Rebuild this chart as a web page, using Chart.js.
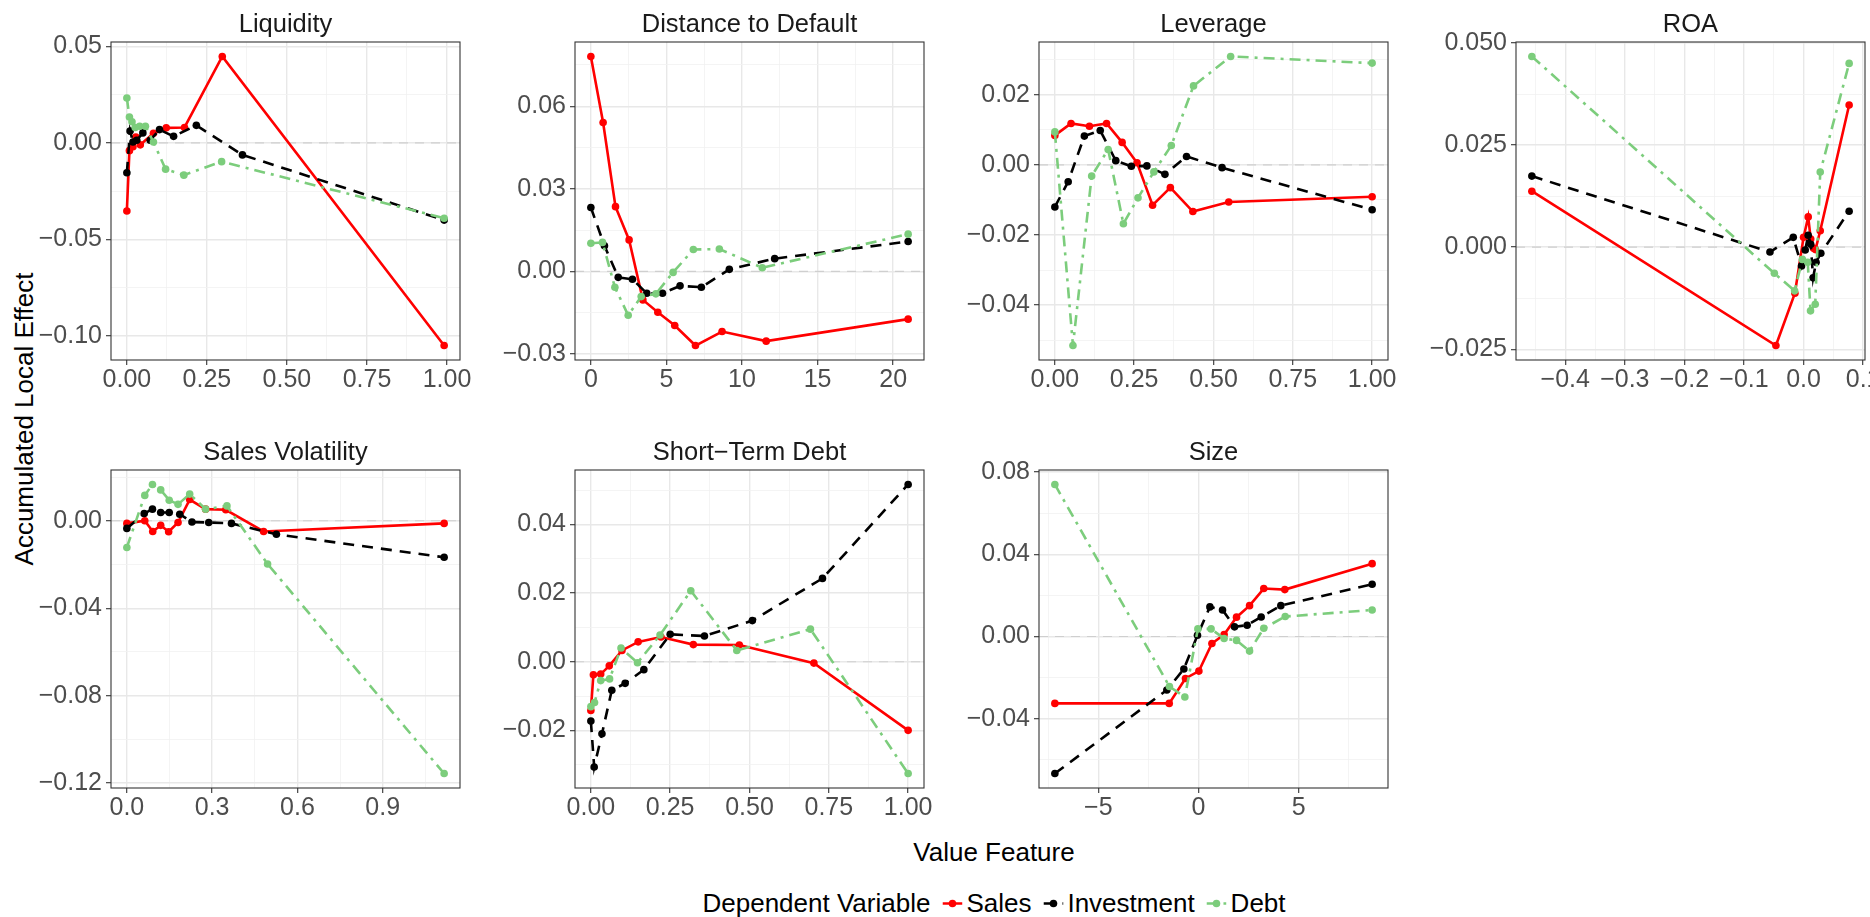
<!DOCTYPE html>
<html>
<head>
<meta charset="utf-8">
<script src="https://cdn.jsdelivr.net/npm/chart.js@4.4.0/dist/chart.umd.min.js"></script>
<style>
  body { margin: 0; background: #fff; overflow: hidden; font-family: "Liberation Sans", Arial, sans-serif; }
  #page { position: relative; width: 1870px; height: 917px; overflow: hidden; }
  #page canvas { position: absolute; }
  .ytitle { position: absolute; left: 24px; top: 419px; transform: translate(-50%, -50%) rotate(-90deg); font-size: 26px; white-space: nowrap; color: #000; }
  .xtitle { position: absolute; left: 994px; top: 852px; transform: translate(-50%, -50%); font-size: 26px; white-space: nowrap; color: #000; }
  .legend { position: absolute; left: 994px; top: 903px; transform: translate(-50%, -50%); display: flex; align-items: center; font-size: 26px; white-space: nowrap; color: #000; }
  .legend svg { margin: 0 4px 0 12px; }
</style>
</head>
<body>
<div id="page">
  <div class="ytitle">Accumulated Local Effect</div>
  <div class="xtitle">Value Feature</div>
  <div class="legend" id="legend"><span>Dependent Variable</span></div>
</div>
<script>
// dependent variables and how each one is drawn
var seriesNames = ['Sales', 'Investment', 'Debt'];
var seriesColors = ['#ff0000', '#000000', '#7ccd7c'];
var seriesDashes = [[], [11, 8], [11, 6, 3, 6]];

// [feature value, accumulated local effect]
var liquiditySales = [[0, -0.0353], [0.008, -0.0040], [0.019, -0.0020], [0.028, 0.0030], [0.042, -0.0010], [0.083, 0.0050], [0.123, 0.0078], [0.180, 0.0080], [0.298, 0.0448], [0.991, -0.1050]];
var liquidityInvestment = [[0, -0.0155], [0.010, 0.0062], [0.019, 0.0005], [0.031, 0.0014], [0.050, 0.0052], [0.073, 0.0014], [0.102, 0.0069], [0.146, 0.0034], [0.217, 0.0091], [0.361, -0.0062], [0.991, -0.0400]];
var liquidityDebt = [[0, 0.0233], [0.008, 0.0134], [0.016, 0.0110], [0.026, 0.0080], [0.040, 0.0086], [0.058, 0.0086], [0.083, 0.0005], [0.121, -0.0136], [0.178, -0.0167], [0.296, -0.0097], [0.991, -0.0390]];

var distanceSales = [[0, 0.0781], [0.81, 0.0541], [1.63, 0.0235], [2.53, 0.0114], [3.44, -0.0104], [4.43, -0.0149], [5.55, -0.0197], [6.92, -0.0270], [8.68, -0.0219], [11.6, -0.0254], [20.99, -0.0174]];
var distanceInvestment = [[0, 0.0232], [0.90, 0.0093], [1.81, -0.0022], [2.75, -0.0029], [3.70, -0.0080], [4.74, -0.0080], [5.90, -0.0053], [7.31, -0.0058], [9.16, 0.0007], [12.16, 0.0046], [20.99, 0.0108]];
var distanceDebt = [[0, 0.0102], [0.77, 0.0105], [1.59, -0.0058], [2.47, -0.0160], [3.33, -0.0092], [4.30, -0.0082], [5.44, -0.0004], [6.78, 0.0079], [8.50, 0.0081], [11.34, 0.0013], [20.99, 0.0135]];

var leverageSales = [[0, 0.0084], [0.051, 0.0118], [0.109, 0.0110], [0.163, 0.0118], [0.212, 0.0064], [0.259, 0.0006], [0.308, -0.0115], [0.364, -0.0065], [0.435, -0.0133], [0.548, -0.0106], [1.0, -0.0091]];
var leverageInvestment = [[0, -0.0120], [0.042, -0.0048], [0.093, 0.0082], [0.143, 0.0098], [0.192, 0.0012], [0.241, -0.0004], [0.290, -0.0003], [0.347, -0.0027], [0.415, 0.0024], [0.527, -0.0008], [1.0, -0.0128]];
var leverageDebt = [[0, 0.0094], [0.057, -0.0515], [0.116, -0.0032], [0.168, 0.0044], [0.216, -0.0168], [0.262, -0.0094], [0.312, -0.0020], [0.367, 0.0055], [0.437, 0.0225], [0.554, 0.0309], [1.0, 0.0290]];

var roaSales = [[-0.456, 0.0137], [-0.0464, -0.0241], [-0.0145, -0.0113], [0.0, 0.0024], [0.0078, 0.0074], [0.012, 0.0020], [0.0168, -0.0003], [0.020, -0.0006], [0.028, 0.0040], [0.0765, 0.0348]];
var roaInvestment = [[-0.456, 0.0174], [-0.0564, -0.0012], [-0.0173, 0.0024], [-0.0034, -0.0046], [0.0028, -0.0007], [0.0078, 0.0029], [0.012, 0.0007], [0.016, -0.0075], [0.021, -0.0037], [0.029, -0.0015], [0.0765, 0.0088]];
var roaDebt = [[-0.456, 0.0467], [-0.049, -0.0064], [-0.015, -0.0107], [-0.002, -0.0030], [0.007, -0.0037], [0.0117, -0.0156], [0.0196, -0.0140], [0.028, 0.0184], [0.0765, 0.0450]];

var volatilitySales = [[0, -0.0012], [0.063, 0.0], [0.091, -0.0049], [0.119, -0.0021], [0.147, -0.0050], [0.180, -0.0008], [0.221, 0.0097], [0.277, 0.0053], [0.348, 0.0050], [0.481, -0.0049], [1.116, -0.0012]];
var volatilityInvestment = [[0, -0.0035], [0.061, 0.0033], [0.090, 0.0053], [0.119, 0.0038], [0.149, 0.0038], [0.186, 0.0030], [0.229, -0.0006], [0.288, -0.0008], [0.368, -0.0012], [0.526, -0.0062], [1.116, -0.0167]];
var volatilityDebt = [[0, -0.0122], [0.063, 0.0116], [0.090, 0.0166], [0.119, 0.0141], [0.149, 0.0094], [0.180, 0.0075], [0.221, 0.0122], [0.277, 0.0053], [0.352, 0.0068], [0.495, -0.0198], [1.116, -0.1156]];

var shortDebtSales = [[0, -0.0142], [0.008, -0.0038], [0.031, -0.0036], [0.058, -0.0012], [0.098, 0.0033], [0.149, 0.0058], [0.221, 0.0072], [0.323, 0.0050], [0.468, 0.0049], [0.703, -0.0004], [1.0, -0.0200]];
var shortDebtInvestment = [[0, -0.0173], [0.0105, -0.0307], [0.035, -0.0210], [0.066, -0.0083], [0.108, -0.0063], [0.167, -0.0023], [0.250, 0.0080], [0.358, 0.0075], [0.509, 0.0120], [0.730, 0.0243], [1.0, 0.0517]];
var shortDebtDebt = [[0, -0.0131], [0.0115, -0.0119], [0.031, -0.0055], [0.059, -0.0050], [0.095, 0.0040], [0.147, -0.0003], [0.218, 0.0078], [0.315, 0.0207], [0.460, 0.0033], [0.692, 0.0095], [1.0, -0.0326]];

var sizeSales = [[-7.17, -0.0325], [-1.46, -0.0325], [-0.65, -0.0204], [0.02, -0.0168], [0.67, -0.0034], [1.28, 0.0010], [1.90, 0.0094], [2.55, 0.0150], [3.26, 0.0233], [4.31, 0.0228], [8.67, 0.0354]];
var sizeInvestment = [[-7.17, -0.0666], [-1.58, -0.0260], [-0.73, -0.0158], [-0.05, 0.0006], [0.57, 0.0144], [1.20, 0.0129], [1.80, 0.0047], [2.43, 0.0055], [3.13, 0.0095], [4.11, 0.0150], [8.67, 0.0254]];
var sizeDebt = [[-7.17, 0.0739], [-1.45, -0.0243], [-0.68, -0.0294], [-0.03, 0.0037], [0.63, 0.0037], [1.28, -0.0010], [1.90, -0.0019], [2.55, -0.0071], [3.26, 0.0040], [4.33, 0.0097], [8.67, 0.0129]];

// axis breaks
var liquidityXTicks = [0, 0.25, 0.5, 0.75, 1];
var liquidityYTicks = [-0.10, -0.05, 0, 0.05];
var distanceXTicks = [0, 5, 10, 15, 20];
var distanceYTicks = [-0.03, 0, 0.03, 0.06];
var leverageXTicks = [0, 0.25, 0.5, 0.75, 1];
var leverageYTicks = [-0.04, -0.02, 0, 0.02];
var roaXTicks = [-0.4, -0.3, -0.2, -0.1, 0, 0.1];
var roaYTicks = [-0.025, 0, 0.025, 0.05];
var volatilityXTicks = [0, 0.3, 0.6, 0.9];
var volatilityYTicks = [-0.12, -0.08, -0.04, 0];
var shortDebtXTicks = [0, 0.25, 0.5, 0.75, 1];
var shortDebtYTicks = [-0.02, 0, 0.02, 0.04];
var sizeXTicks = [-5, 0, 5];
var sizeYTicks = [-0.04, 0, 0.04, 0.08];

var referenceLevel = 0;

var panels = [
  { title: 'Liquidity', series: [liquiditySales, liquidityInvestment, liquidityDebt], xTicks: liquidityXTicks, yTicks: liquidityYTicks, xDigits: 2, yDigits: 2 },
  { title: 'Distance to Default', series: [distanceSales, distanceInvestment, distanceDebt], xTicks: distanceXTicks, yTicks: distanceYTicks, xDigits: 0, yDigits: 2 },
  { title: 'Leverage', series: [leverageSales, leverageInvestment, leverageDebt], xTicks: leverageXTicks, yTicks: leverageYTicks, xDigits: 2, yDigits: 2 },
  { title: 'ROA', series: [roaSales, roaInvestment, roaDebt], xTicks: roaXTicks, yTicks: roaYTicks, xDigits: 1, yDigits: 3 },
  { title: 'Sales Volatility', series: [volatilitySales, volatilityInvestment, volatilityDebt], xTicks: volatilityXTicks, yTicks: volatilityYTicks, xDigits: 1, yDigits: 2 },
  { title: 'Short\u2212Term Debt', series: [shortDebtSales, shortDebtInvestment, shortDebtDebt], xTicks: shortDebtXTicks, yTicks: shortDebtYTicks, xDigits: 2, yDigits: 2 },
  { title: 'Size', series: [sizeSales, sizeInvestment, sizeDebt], xTicks: sizeXTicks, yTicks: sizeYTicks, xDigits: 0, yDigits: 2 }
];

// panel grid geometry (plot box corners)
var colLeft = [111, 575, 1039, 1516];
var rowTop = [42, 470];
var BOX_W = 349, BOX_H = 318;
var Y_AXIS_W = 100, X_AXIS_H = 40, TITLE_H = 32, RIGHT_PAD = 30;

Chart.defaults.font.family = '"Liberation Sans", Arial, sans-serif';

function fmt(v, digits) {
  var s = (Math.abs(v) < 1e-12 ? 0 : v).toFixed(digits);
  return s.replace('-', '\u2212');
}

// ggplot style limits: data range plus 5% each side
function expand(vals) {
  var lo = Math.min.apply(null, vals), hi = Math.max.apply(null, vals);
  var pad = (hi - lo) * 0.05;
  return [lo - pad, hi + pad];
}

// majors plus minor breaks halfway between them
function withMinor(majors, lo, hi) {
  var step = majors[1] - majors[0];
  var ext = [majors[0] - step].concat(majors, [majors[majors.length - 1] + step]);
  var out = [];
  majors.forEach(function (v) { if (v >= lo && v <= hi) out.push({ value: v, minor: false }); });
  for (var i = 0; i < ext.length - 1; i++) {
    var m = (ext[i] + ext[i + 1]) / 2;
    if (m >= lo && m <= hi) out.push({ value: m, minor: true });
  }
  out.sort(function (a, b) { return a.value - b.value; });
  return out;
}

function axisOptions(majors, lo, hi, digits, isX) {
  return {
    type: 'linear',
    min: lo,
    max: hi,
    afterBuildTicks: function (scale) { scale.ticks = withMinor(majors, lo, hi); },
    afterFit: function (scale) {
      if (isX) scale.height = X_AXIS_H; else scale.width = Y_AXIS_W;
    },
    border: { display: false },
    grid: {
      color: function (c) { return c.tick && c.tick.minor ? '#f1f1f1' : '#e8e8e8'; },
      lineWidth: function (c) { return c.tick && c.tick.minor ? 0.8 : 1.4; },
      tickColor: function (c) { return c.tick && c.tick.minor ? 'rgba(0,0,0,0)' : '#333333'; },
      tickWidth: 1.1,
      tickLength: 5
    },
    ticks: {
      autoSkip: false,
      maxRotation: 0,
      padding: isX ? 0 : 4,
      color: '#4d4d4d',
      font: { size: 25 },
      callback: function (value, index, ticks) {
        return ticks[index].minor ? '' : fmt(value, digits);
      }
    }
  };
}

var zeroLine = {
  id: 'zeroLine',
  beforeDatasetsDraw: function (chart) {
    var a = chart.chartArea, ctx = chart.ctx;
    var py = chart.scales.y.getPixelForValue(referenceLevel);
    ctx.save();
    ctx.strokeStyle = '#cfcfcf';
    ctx.lineWidth = 1.2;
    ctx.setLineDash([9, 7]);
    ctx.beginPath();
    ctx.moveTo(a.left, py);
    ctx.lineTo(a.right, py);
    ctx.stroke();
    ctx.restore();
  }
};

var panelBorder = {
  id: 'panelBorder',
  afterDraw: function (chart) {
    var a = chart.chartArea, ctx = chart.ctx;
    ctx.save();
    ctx.strokeStyle = '#333333';
    ctx.lineWidth = 1.1;
    ctx.strokeRect(a.left, a.top, a.right - a.left, a.bottom - a.top);
    ctx.restore();
  }
};

var page = document.getElementById('page');

panels.forEach(function (p, i) {
  var col = i % 4, row = Math.floor(i / 4);
  var canvas = document.createElement('canvas');
  canvas.width = Y_AXIS_W + BOX_W + RIGHT_PAD;
  canvas.height = TITLE_H + BOX_H + X_AXIS_H;
  canvas.style.left = (colLeft[col] - Y_AXIS_W) + 'px';
  canvas.style.top = (rowTop[row] - TITLE_H) + 'px';
  page.appendChild(canvas);

  var xs = [], ys = [];
  p.series.forEach(function (s) { s.forEach(function (pt) { xs.push(pt[0]); ys.push(pt[1]); }); });
  var xl = expand(xs), yl = expand(ys);

  new Chart(canvas, {
    type: 'line',
    data: {
      datasets: p.series.map(function (s, k) {
        return {
          label: seriesNames[k],
          data: s,
          order: 3 - k,
          borderColor: seriesColors[k],
          backgroundColor: seriesColors[k],
          pointBackgroundColor: seriesColors[k],
          pointBorderWidth: 0,
          pointRadius: 3.8,
          borderWidth: 2.6,
          borderDash: seriesDashes[k],
          tension: 0,
          fill: false
        };
      })
    },
    options: {
      responsive: false,
      animation: false,
      devicePixelRatio: 1,
      layout: { padding: { left: 0, top: 0, right: RIGHT_PAD, bottom: 0 } },
      plugins: {
        legend: { display: false },
        tooltip: { enabled: false },
        title: {
          display: true,
          fullSize: false,
          text: p.title,
          color: '#1a1a1a',
          font: { size: 25.5, weight: 'normal' },
          padding: { top: 0, bottom: TITLE_H - 25.5 * 1.2 }
        }
      },
      scales: {
        x: axisOptions(p.xTicks, xl[0], xl[1], p.xDigits, true),
        y: axisOptions(p.yTicks, yl[0], yl[1], p.yDigits, false)
      }
    },
    plugins: [zeroLine, panelBorder]
  });
});

// shared legend keys
var legend = document.getElementById('legend');
seriesNames.forEach(function (name, k) {
  var ns = 'http://www.w3.org/2000/svg';
  var svg = document.createElementNS(ns, 'svg');
  svg.setAttribute('width', '20');
  svg.setAttribute('height', '20');
  var line = document.createElementNS(ns, 'line');
  line.setAttribute('x1', '0'); line.setAttribute('y1', '10');
  line.setAttribute('x2', '20'); line.setAttribute('y2', '10');
  line.setAttribute('stroke', seriesColors[k]);
  line.setAttribute('stroke-width', '2.6');
  if (seriesDashes[k].length) line.setAttribute('stroke-dasharray', seriesDashes[k].join(' '));
  var dot = document.createElementNS(ns, 'circle');
  dot.setAttribute('cx', '10'); dot.setAttribute('cy', '10'); dot.setAttribute('r', '3.8');
  dot.setAttribute('fill', seriesColors[k]);
  svg.appendChild(line);
  svg.appendChild(dot);
  legend.appendChild(svg);
  var label = document.createElement('span');
  label.textContent = name;
  legend.appendChild(label);
});
</script>
</body>
</html>
